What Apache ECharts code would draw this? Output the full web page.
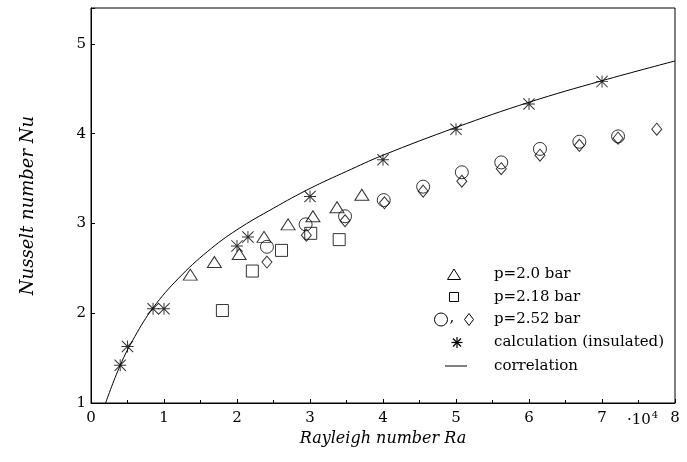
<!DOCTYPE html>
<html>
<head>
<meta charset="utf-8">
<script src="https://cdn.jsdelivr.net/npm/echarts@6/dist/echarts.min.js"></script>
<style>
  html, body { margin: 0; padding: 0; background: #fff; }
  #chart { width: 687px; height: 462px; }
</style>
</head>
<body>
<div id="chart"></div>
<script>
// Ra in units of 10^4
const starRa = [0.4, 0.5, 0.85, 1.0, 2.0, 2.15, 3.0, 4.0, 5.0, 6.0, 7.0]
const starNu = [1.42, 1.63, 2.05, 2.05, 2.75, 2.85, 3.30, 3.71, 4.05, 4.33, 4.58]

const triRa = [1.36, 1.69, 2.03, 2.37, 2.70, 3.04, 3.37, 3.71]
const triNu = [2.43, 2.57, 2.66, 2.85, 2.99, 3.08, 3.18, 3.32]

const sqRa = [1.80, 2.21, 2.61, 3.01, 3.40]
const sqNu = [2.03, 2.47, 2.70, 2.89, 2.82]

const cirRa = [2.41, 2.94, 3.48, 4.01, 4.55, 5.08, 5.62, 6.15, 6.69, 7.22]
const cirNu = [2.74, 2.99, 3.08, 3.26, 3.41, 3.57, 3.68, 3.83, 3.91, 3.97]

const diaRa = [2.41, 2.95, 3.48, 4.02, 4.55, 5.08, 5.62, 6.15, 6.69, 7.22, 7.75]
const diaNu = [2.57, 2.87, 3.03, 3.23, 3.36, 3.47, 3.61, 3.76, 3.87, 3.95, 4.05]

const corrRa = [0.2, 0.4, 0.6, 0.85, 1.2, 1.6, 2.0, 2.5, 3.0, 3.5, 4.0, 5.0, 6.0, 7.0, 8.0]
const corrNu = [1.0, 1.42, 1.74, 2.06, 2.39, 2.69, 2.93, 3.17, 3.39, 3.58, 3.76, 4.07, 4.35, 4.59, 4.81]

const xTicks = [0, 1, 2, 3, 4, 5, 6, 7, 8]
const yTicks = [1, 2, 3, 4, 5]

const FONT = 'DejaVu Serif'
const ASTERISK = 'path://M0 46 L100 46 L100 54 L0 54 Z M46 0 L54 0 L54 100 L46 100 Z M0 6 L6 0 L100 94 L94 100 Z M94 0 L100 6 L6 100 L0 94 Z'

const zip = (xs, ys) => xs.map((x, i) => [x, ys[i]])

const hollow = { color: 'transparent', borderColor: '#000', borderWidth: 1 }

const chart = echarts.init(document.getElementById('chart'))

// legend drawn by hand, since one entry holds two symbols
const rowY = [274.5, 297, 319.5, 342.5, 366]
const legendText = ['p=2.0 bar', 'p=2.18 bar', 'p=2.52 bar', 'calculation (insulated)', 'correlation']
const outline = { stroke: '#000', lineWidth: 1, fill: 'none' }

const starArm = (dx, dy) => ({
  type: 'line',
  shape: { x1: 457 - dx, y1: rowY[3] - dy, x2: 457 + dx, y2: rowY[3] + dy },
  style: { stroke: '#000', lineWidth: 1.2 }
})

const legend = [
  { type: 'polygon', shape: { points: [[454, rowY[0] - 5.5], [460.5, rowY[0] + 5], [447.5, rowY[0] + 5]] }, style: outline },
  { type: 'rect', shape: { x: 449.5, y: rowY[1] - 4.5, width: 9, height: 9 }, style: outline },
  { type: 'circle', shape: { cx: 441, cy: rowY[2], r: 6.5 }, style: outline },
  { type: 'text', x: 449.5, y: rowY[2] - 1, style: { text: ',', fontFamily: FONT, fontSize: 15, fill: '#000', verticalAlign: 'middle' } },
  { type: 'polygon', shape: { points: [[469, rowY[2] - 6], [473.5, rowY[2]], [469, rowY[2] + 6], [464.5, rowY[2]]] }, style: outline },
  starArm(5.5, 0), starArm(0, 5.5), starArm(4, 4), starArm(4, -4),
  { type: 'line', shape: { x1: 445, y1: rowY[4], x2: 467, y2: rowY[4] }, style: { stroke: '#000', lineWidth: 1 } },
  ...legendText.map((t, i) => ({
    type: 'text', x: 494, y: rowY[i],
    style: { text: t, fontFamily: FONT, fontSize: 15, fill: '#000', verticalAlign: 'middle' }
  })),
  {
    type: 'text', x: 627, y: 420,
    style: {
      text: '{a|·10}{b|4}', fill: '#000', verticalAlign: 'middle',
      rich: {
        a: { fontFamily: FONT, fontSize: 15, fill: '#000' },
        b: { fontFamily: FONT, fontSize: 10, fill: '#000', verticalAlign: 'bottom', padding: [0, 0, 9, 1] }
      }
    }
  }
]

const option = {
  backgroundColor: '#fff',
  animation: false,
  grid: {
    left: 91,
    right: 12,
    top: 8,
    bottom: 59,
    show: true,
    borderColor: '#000',
    borderWidth: 1
  },
  xAxis: {
    type: 'value',
    min: 0,
    max: 8,
    interval: 1,
    name: 'Rayleigh number Ra',
    nameLocation: 'middle',
    nameGap: 26,
    nameTextStyle: { fontFamily: FONT, fontStyle: 'italic', fontSize: 16, color: '#000' },
    axisLine: { lineStyle: { color: '#000', width: 1 } },
    axisTick: { inside: true, length: 4, lineStyle: { color: '#000' } },
    minorTick: { show: true, splitNumber: 2, length: 3, lineStyle: { color: '#000' } },
    axisLabel: {
      margin: 8,
      fontFamily: FONT,
      fontSize: 15,
      color: '#000',
      formatter: v => xTicks.includes(v) ? String(v) : ''
    },
    splitLine: { show: false }
  },
  yAxis: {
    type: 'value',
    min: 1,
    max: 5.4,
    interval: 1,
    name: 'Nusselt number Nu',
    nameLocation: 'middle',
    nameGap: 54,
    nameRotate: 90,
    nameTextStyle: { fontFamily: FONT, fontStyle: 'italic', fontSize: 18, color: '#000' },
    axisLine: { lineStyle: { color: '#000', width: 1 } },
    axisTick: { inside: true, length: 4, lineStyle: { color: '#000' } },
    axisLabel: {
      margin: 5,
      fontFamily: FONT,
      fontSize: 15,
      color: '#000',
      formatter: v => yTicks.includes(v) ? String(v) : ''
    },
    splitLine: { show: false }
  },
  graphic: legend,
  series: [
    {
      name: 'correlation',
      type: 'line',
      data: zip(corrRa, corrNu),
      smooth: 0.4,
      showSymbol: false,
      lineStyle: { color: '#000', width: 1 },
      z: 1
    },
    {
      name: 'p=2.0 bar',
      type: 'scatter',
      symbol: 'triangle',
      symbolSize: [14, 11],
      data: zip(triRa, triNu),
      itemStyle: hollow
    },
    {
      name: 'p=2.18 bar',
      type: 'scatter',
      symbol: 'rect',
      symbolSize: 12,
      data: zip(sqRa, sqNu),
      itemStyle: hollow
    },
    {
      name: 'p=2.52 bar (circle)',
      type: 'scatter',
      symbol: 'circle',
      symbolSize: 13,
      data: zip(cirRa, cirNu),
      itemStyle: hollow
    },
    {
      name: 'p=2.52 bar (diamond)',
      type: 'scatter',
      symbol: 'diamond',
      symbolSize: [10, 12],
      data: zip(diaRa, diaNu),
      itemStyle: hollow
    },
    {
      name: 'calculation (insulated)',
      type: 'scatter',
      symbol: ASTERISK,
      symbolSize: 12,
      data: zip(starRa, starNu),
      itemStyle: { color: '#000' }
    }
  ]
}

chart.setOption(option)
</script>
</body>
</html>
